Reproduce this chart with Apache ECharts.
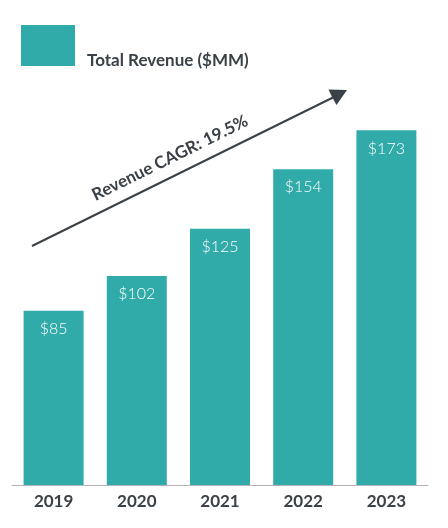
<!DOCTYPE html>
<html>
<head>
    <meta charset="UTF-8">
    <title>Total Revenue</title>
    <script type="text/javascript" src="https://cdn.jsdelivr.net/npm/echarts@6/dist/echarts.min.js"></script>
    <style type="text/css">
        html, body { margin: 0; padding: 0; background: #ffffff; }
        #chart { width: 448px; height: 528px; }
    </style>
</head>
<body>
<div id="chart"></div>
<script type="text/javascript">
    // 数据
    var years = ['2019', '2020', '2021', '2022', '2023'];
    var revenue = [85, 102, 125, 154, 173];
    var seriesName = 'Total Revenue ($MM)';
    var cagrText = 'Revenue CAGR: 19.5%';

    var teal = '#31aba9';
    var dark = '#3a4148';

    var chart = echarts.init(document.getElementById('chart'));
    chart.setOption({
        animation: false,
        grid: {left: 12, right: 20, top: 75, bottom: 43},
        legend: {
            left: 21, top: 25, padding: 0,
            itemWidth: 54, itemHeight: 41, itemGap: 0,
            icon: 'rect',
            formatter: function (name) { return '{t|' + name + '}'; },
            textStyle: {
                rich: {
                    t: {
                        color: dark, fontSize: 17, fontWeight: 'bold', fontFamily: 'Lato',
                        padding: [30, 0, 0, 7]
                    }
                }
            },
            data: [seriesName]
        },
        xAxis: {
            type: 'category',
            data: years,
            axisLine: {lineStyle: {color: '#b4b4b4', width: 1}},
            axisTick: {inside: true, length: 10, lineStyle: {color: '#b4b4b4'}},
            axisLabel: {color: dark, fontSize: 17, fontWeight: 'bold', fontFamily: 'Lato', margin: 8}
        },
        yAxis: {type: 'value', min: 0, max: 200, show: false},
        series: [{
            name: seriesName,
            type: 'bar',
            barWidth: 60,
            itemStyle: {color: teal},
            label: {
                show: true, position: 'insideTop', distance: 10,
                color: '#ffffff', fontSize: 16, fontWeight: 300, fontFamily: 'Lato',
                formatter: function (p) { return '$' + p.value; }
            },
            data: revenue
        }],
        graphic: [
            // 增长箭头
            {
                type: 'line',
                shape: {x1: 32, y1: 246, x2: 336, y2: 96},
                style: {stroke: dark, lineWidth: 2}
            },
            {
                type: 'polygon',
                shape: {points: [[347, 90], [336.5, 105], [332, 97], [328.5, 89.5]]},
                style: {fill: dark}
            },
            {
                type: 'text',
                x: 170, y: 158,
                rotation: 26.3 * Math.PI / 180,
                style: {
                    text: cagrText, fill: dark, fontSize: 17, fontWeight: 'bold', fontFamily: 'Lato',
                    align: 'center', verticalAlign: 'middle'
                }
            }
        ]
    });
</script>
</body>
</html>
